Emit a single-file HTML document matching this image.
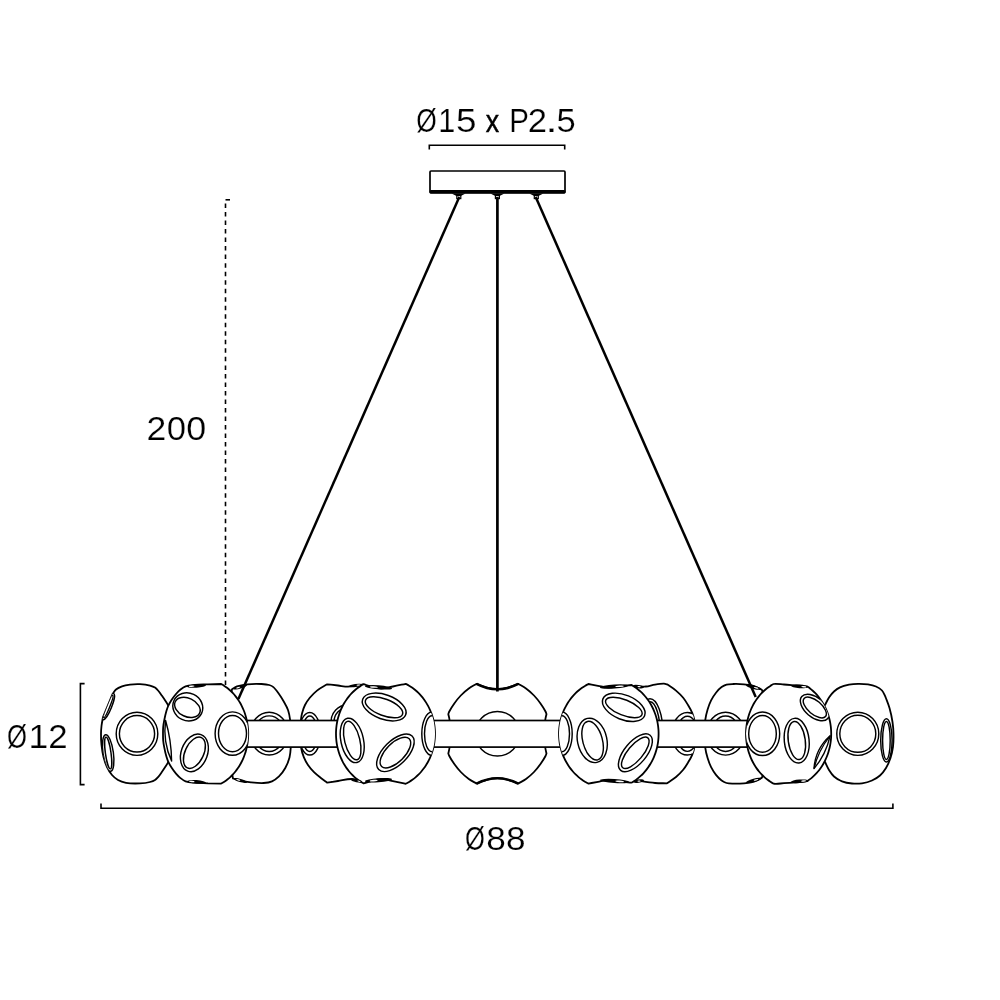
<!DOCTYPE html>
<html><head><meta charset="utf-8"><style>
html,body{margin:0;padding:0;background:#fff;}
svg{display:block;}
text{font-family:"Liberation Sans",sans-serif;fill:#000;}
</style></head><body>
<svg width="1000" height="1000" viewBox="0 0 1000 1000">
<defs><clipPath id="cA"><path d="M112.50,694.00 C113.67,692.50 114.52,690.75 116.00,689.50 C117.62,688.13 119.79,687.10 122.00,686.30 C124.42,685.42 127.17,684.95 130.00,684.60 C133.13,684.21 136.67,684.04 140.00,684.20 C143.34,684.37 147.27,684.88 150.00,685.60 C151.99,686.13 153.56,686.66 155.00,687.60 C156.37,688.49 157.39,689.72 158.50,691.00 C159.73,692.42 160.85,694.16 162.00,695.80 C163.18,697.49 164.40,699.27 165.50,701.00 C166.56,702.67 167.60,704.22 168.50,706.00 C169.45,707.88 170.17,710.00 171.00,712.00 L171.00,755.60 C170.17,757.60 169.45,759.72 168.50,761.60 C167.60,763.38 166.56,764.93 165.50,766.60 C164.40,768.33 163.18,770.11 162.00,771.80 C160.85,773.44 159.73,775.18 158.50,776.60 C157.39,777.88 156.37,779.11 155.00,780.00 C153.56,780.94 151.99,781.47 150.00,782.00 C147.27,782.72 143.62,783.23 140.00,783.40 C135.73,783.61 129.97,783.56 126.00,782.80 C122.91,782.21 120.37,781.34 118.00,780.00 C115.73,778.71 113.77,777.03 112.00,775.00 C110.06,772.77 108.39,769.90 107.00,767.00 C105.52,763.93 104.40,760.53 103.50,757.00 C102.53,753.22 101.92,748.94 101.50,745.00 C101.10,741.21 100.97,737.20 101.00,733.80 C101.03,730.96 101.19,728.68 101.50,726.00 C101.83,723.10 102.50,720.00 103.00,717.00 L112.50,694.00Z"/></clipPath><clipPath id="cK"><path d="M825.00,705.00 C826.33,702.50 827.46,699.79 829.00,697.50 C830.48,695.31 832.13,693.20 834.00,691.50 C835.81,689.86 837.70,688.50 840.00,687.40 C842.61,686.15 845.97,685.30 849.00,684.70 C851.97,684.11 854.92,683.86 858.00,683.80 C861.24,683.74 864.88,683.90 868.00,684.40 C870.84,684.85 873.60,685.42 876.00,686.50 C878.24,687.51 880.42,688.77 882.00,690.50 C883.60,692.26 884.33,694.83 885.50,697.00 C886.83,700.67 888.37,704.07 889.50,708.00 C890.75,712.35 891.83,717.51 892.50,722.00 C893.11,726.08 893.41,729.75 893.50,733.80 C893.60,738.07 893.55,742.82 893.00,747.00 C892.49,750.86 891.68,754.48 890.50,758.00 C889.34,761.47 887.83,765.01 886.00,768.00 C884.29,770.80 882.35,773.41 880.00,775.50 C877.67,777.57 874.92,779.21 872.00,780.50 C868.94,781.85 865.37,782.80 862.00,783.30 C858.70,783.79 855.31,783.83 852.00,783.50 C848.65,783.17 845.06,782.52 842.00,781.30 C839.08,780.14 836.21,778.47 834.00,776.50 C831.93,774.66 830.48,772.36 829.00,770.00 C827.46,767.54 826.33,764.67 825.00,762.00 C821.67,759.67 817.17,759.18 815.00,755.00 C810.92,747.16 810.92,719.84 815.00,712.00 C817.17,707.82 821.67,707.33 825.00,705.00Z"/></clipPath><clipPath id="cC"><path d="M232.00,689.20 C233.67,688.27 234.96,687.16 237.00,686.40 C239.79,685.37 243.73,684.71 247.50,684.30 C251.81,683.83 257.53,683.79 261.50,684.00 C264.45,684.16 267.06,684.35 269.20,685.00 C270.86,685.51 272.02,685.98 273.40,687.10 C275.31,688.64 277.26,691.66 279.00,694.10 C280.76,696.56 282.39,699.14 283.90,701.80 C285.43,704.50 287.06,707.20 288.10,710.20 C289.19,713.35 289.74,716.67 290.20,720.30 C290.72,724.45 290.70,729.32 290.80,733.80 C290.90,738.22 291.06,742.86 290.80,747.00 C290.57,750.71 290.39,754.06 289.50,757.50 C288.58,761.06 287.10,764.80 285.30,768.00 C283.57,771.08 281.36,774.12 279.00,776.40 C276.87,778.46 274.56,780.20 272.00,781.30 C269.43,782.40 266.70,782.78 263.60,783.00 C259.84,783.27 255.00,782.73 251.00,782.30 C247.33,781.90 243.69,781.30 240.50,780.60 C237.77,780.00 235.50,779.20 233.00,778.50 C230.33,763.60 225.16,748.71 225.00,733.80 C224.84,718.94 229.67,704.07 232.00,689.20Z"/></clipPath><clipPath id="cD"><path d="M327.20,684.30 C330.80,684.70 334.47,685.09 338.00,685.50 C341.40,685.89 344.86,686.75 348.00,686.70 C350.82,686.66 353.42,685.88 356.00,685.50 C358.41,685.15 360.67,684.83 363.00,684.50 C365.33,689.67 368.44,692.74 370.00,700.00 C373.17,714.73 373.71,756.61 370.00,770.00 C368.34,775.99 365.20,778.00 362.80,782.00 C359.20,781.00 355.86,779.25 352.00,779.00 C347.66,778.72 342.36,780.35 338.00,781.00 C334.16,781.58 330.80,782.13 327.20,782.70 C325.20,781.20 323.27,779.84 321.20,778.20 C318.89,776.37 316.20,774.40 314.00,772.20 C311.80,770.00 309.72,767.54 308.00,765.00 C306.33,762.53 304.92,759.97 303.80,757.20 C302.63,754.32 301.77,751.43 301.20,748.00 C300.50,743.81 300.43,738.55 300.40,733.80 C300.37,729.02 300.61,723.16 301.00,719.40 C301.25,716.96 301.44,715.54 302.00,713.40 C302.67,710.81 303.69,707.62 305.00,705.00 C306.29,702.42 307.91,700.11 309.80,697.80 C311.85,695.29 314.25,692.78 317.00,690.60 C319.99,688.24 323.80,686.40 327.20,684.30Z"/></clipPath><clipPath id="cF"><path d="M476.60,683.80 C478.33,684.50 480.06,685.26 481.80,685.90 C483.52,686.53 485.25,687.13 487.00,687.60 C488.72,688.06 490.46,688.43 492.20,688.70 C493.93,688.96 495.67,689.20 497.40,689.20 C499.13,689.20 500.87,688.96 502.60,688.70 C504.34,688.43 506.08,688.06 507.80,687.60 C509.55,687.13 511.28,686.53 513.00,685.90 C514.74,685.26 516.47,684.50 518.20,683.80 C520.80,685.37 523.46,686.65 526.00,688.50 C528.74,690.50 531.57,692.98 534.00,695.50 C536.39,697.98 538.55,700.77 540.50,703.50 C542.37,706.11 544.51,709.55 545.50,711.50 C546.03,712.54 546.17,713.17 546.50,714.00 C546.07,716.17 545.49,717.58 545.20,720.50 C544.62,726.33 544.62,741.17 545.20,747.00 C545.49,749.92 546.07,751.33 546.50,753.50 C546.17,754.33 546.03,754.96 545.50,756.00 C544.51,757.95 542.37,761.39 540.50,764.00 C538.55,766.73 536.39,769.52 534.00,772.00 C531.57,774.52 528.74,777.02 526.00,779.00 C523.47,780.83 520.80,782.07 518.20,783.60 C516.47,782.90 514.74,782.14 513.00,781.50 C511.28,780.87 509.55,780.27 507.80,779.80 C506.08,779.34 504.34,778.97 502.60,778.70 C500.87,778.44 499.13,778.20 497.40,778.20 C495.67,778.20 493.93,778.44 492.20,778.70 C490.46,778.97 488.72,779.34 487.00,779.80 C485.25,780.27 483.52,780.87 481.80,781.50 C480.06,782.14 478.33,782.90 476.60,783.60 C474.00,782.07 471.33,780.83 468.80,779.00 C466.06,777.02 463.23,774.52 460.80,772.00 C458.41,769.52 456.25,766.73 454.30,764.00 C452.43,761.39 450.29,757.95 449.30,756.00 C448.77,754.96 448.63,754.33 448.30,753.50 C448.73,751.33 449.31,749.92 449.60,747.00 C450.18,741.17 450.18,726.33 449.60,720.50 C449.31,717.58 448.73,716.17 448.30,714.00 C448.63,713.17 448.77,712.54 449.30,711.50 C450.29,709.55 452.43,706.11 454.30,703.50 C456.25,700.77 458.41,697.98 460.80,695.50 C463.23,692.98 466.06,690.50 468.80,688.50 C471.34,686.65 474.00,685.37 476.60,683.80Z"/></clipPath><clipPath id="cH"><path d="M632.00,688.00 C634.67,687.53 637.52,686.84 640.00,686.60 C642.14,686.40 643.81,686.75 646.00,686.50 C648.71,686.19 651.99,685.07 655.00,684.60 C657.99,684.14 661.81,683.59 664.00,683.70 C665.27,683.76 666.00,684.10 667.00,684.30 C670.00,686.40 673.26,688.30 676.00,690.60 C678.64,692.81 681.15,695.29 683.20,697.80 C685.09,700.11 686.51,702.52 688.00,705.00 C689.51,707.51 691.13,710.20 692.20,712.80 C693.18,715.20 693.87,717.18 694.30,720.00 C694.89,723.83 694.60,729.20 694.60,733.80 C694.60,738.40 694.89,743.77 694.30,747.60 C693.87,750.42 693.18,752.40 692.20,754.80 C691.13,757.40 689.51,760.09 688.00,762.60 C686.51,765.08 685.09,767.49 683.20,769.80 C681.15,772.31 678.64,774.79 676.00,777.00 C673.26,779.30 670.00,781.20 667.00,783.30 C663.00,783.20 659.21,783.33 655.00,783.00 C650.27,782.63 644.22,781.65 640.00,781.00 C636.91,780.52 634.67,780.07 632.00,779.60 L632.00,688.00Z"/></clipPath><clipPath id="cAbove"><rect x="0" y="600" width="1000" height="121"/></clipPath><clipPath id="cI"><path d="M762.00,690.00 C760.33,689.07 758.78,687.99 757.00,687.20 C755.13,686.37 753.10,685.68 751.00,685.20 C748.78,684.69 746.57,684.50 744.00,684.30 C740.86,684.05 736.64,683.91 733.50,684.00 C730.93,684.07 728.57,684.01 726.50,684.60 C724.66,685.13 723.20,685.94 721.60,687.10 C719.68,688.49 717.70,690.58 716.00,692.70 C714.17,694.98 712.49,697.65 711.10,700.40 C709.67,703.24 708.57,706.30 707.60,709.50 C706.57,712.91 705.71,716.48 705.20,720.30 C704.64,724.53 704.60,729.30 704.60,733.80 C704.60,738.30 704.64,743.07 705.20,747.30 C705.71,751.12 706.57,754.69 707.60,758.10 C708.57,761.30 709.67,764.36 711.10,767.20 C712.49,769.95 714.17,772.62 716.00,774.90 C717.70,777.02 719.68,779.11 721.60,780.50 C723.20,781.66 724.66,782.47 726.50,783.00 C728.57,783.59 730.93,783.53 733.50,783.60 C736.64,783.69 740.86,783.55 744.00,783.30 C746.57,783.10 748.78,782.91 751.00,782.40 C753.10,781.92 755.13,781.23 757.00,780.40 C758.78,779.61 760.33,778.53 762.00,777.60 C766.33,763.00 775.00,748.40 775.00,733.80 C775.00,719.20 766.33,704.60 762.00,690.00Z"/></clipPath><clipPath id="cB"><path d="M221.20,783.60 L208.00,783.30 C203.67,783.10 198.97,783.09 195.00,782.70 C191.60,782.37 188.18,782.25 185.60,781.30 C183.55,780.54 182.08,779.36 180.50,778.10 C178.87,776.80 177.44,775.26 176.00,773.60 C174.43,771.79 172.82,769.65 171.50,767.60 C170.24,765.64 169.08,763.54 168.20,761.60 C167.43,759.89 166.97,758.53 166.40,756.60 C165.65,754.06 164.85,750.42 164.30,747.60 C163.82,745.13 163.42,742.92 163.20,740.60 C162.99,738.32 163.00,736.07 163.00,733.80 C163.00,731.53 162.99,729.28 163.20,727.00 C163.42,724.68 163.82,722.47 164.30,720.00 C164.85,717.18 165.65,713.54 166.40,711.00 C166.97,709.07 167.43,707.71 168.20,706.00 C169.08,704.06 170.24,701.96 171.50,700.00 C172.82,697.95 174.43,695.81 176.00,694.00 C177.44,692.34 178.87,690.80 180.50,689.50 C182.08,688.24 183.55,687.06 185.60,686.30 C188.18,685.35 191.60,685.23 195.00,684.90 C198.97,684.51 203.67,684.50 208.00,684.30 L221.20,684.00 C222.25,684.63 223.32,685.23 224.35,685.90 C225.38,686.58 226.38,687.31 227.36,688.08 C228.35,688.85 229.30,689.66 230.23,690.51 C231.16,691.37 232.06,692.27 232.93,693.20 C233.81,694.13 234.65,695.11 235.45,696.11 C236.26,697.12 237.04,698.17 237.78,699.24 C238.52,700.32 239.23,701.43 239.90,702.56 C240.57,703.71 241.21,704.88 241.80,706.07 C242.40,707.26 242.95,708.49 243.47,709.73 C243.99,710.98 244.46,712.24 244.90,713.53 C245.33,714.82 245.73,716.12 246.08,717.44 C246.43,718.76 246.74,720.10 247.00,721.45 C247.27,722.80 247.49,724.16 247.67,725.53 C247.84,726.89 247.98,728.27 248.07,729.65 C248.16,731.03 248.20,732.42 248.20,733.80 C248.20,735.18 248.16,736.57 248.07,737.95 C247.98,739.33 247.84,740.71 247.67,742.07 C247.49,743.44 247.27,744.80 247.00,746.15 C246.74,747.50 246.43,748.84 246.08,750.16 C245.73,751.48 245.33,752.78 244.90,754.07 C244.46,755.36 243.99,756.62 243.47,757.87 C242.95,759.11 242.40,760.34 241.80,761.53 C241.21,762.72 240.57,763.89 239.90,765.04 C239.23,766.17 238.52,767.28 237.78,768.36 C237.04,769.43 236.26,770.48 235.45,771.49 C234.65,772.49 233.81,773.47 232.93,774.40 C232.06,775.33 231.16,776.23 230.23,777.09 C229.30,777.94 228.35,778.75 227.36,779.52 C226.38,780.29 225.38,781.02 224.35,781.70 C223.32,782.37 222.25,782.97 221.20,783.60Z"/></clipPath><clipPath id="cJ"><path d="M807.20,686.40 C808.15,687.08 809.12,687.73 810.05,688.44 C810.97,689.16 811.88,689.92 812.76,690.71 C813.64,691.50 814.50,692.32 815.33,693.17 C816.16,694.03 816.96,694.92 817.74,695.84 C818.51,696.76 819.26,697.71 819.98,698.68 C820.70,699.66 821.39,700.67 822.04,701.70 C822.70,702.73 823.32,703.79 823.91,704.86 C824.51,705.94 825.07,707.05 825.59,708.17 C826.11,709.29 826.60,710.44 827.06,711.60 C827.51,712.76 827.93,713.94 828.31,715.13 C828.69,716.33 829.04,717.54 829.34,718.76 C829.65,719.98 829.92,721.21 830.15,722.45 C830.38,723.70 830.58,724.95 830.73,726.21 C830.89,727.46 831.01,728.73 831.08,729.99 C831.16,731.26 831.20,732.53 831.20,733.80 C831.20,735.07 831.16,736.34 831.08,737.61 C831.01,738.87 830.89,740.14 830.73,741.39 C830.58,742.65 830.38,743.90 830.15,745.15 C829.92,746.39 829.65,747.62 829.34,748.84 C829.04,750.06 828.69,751.27 828.31,752.47 C827.93,753.66 827.51,754.84 827.06,756.00 C826.60,757.16 826.11,758.31 825.59,759.43 C825.07,760.55 824.51,761.66 823.91,762.74 C823.32,763.81 822.70,764.87 822.04,765.90 C821.39,766.93 820.70,767.94 819.98,768.92 C819.26,769.89 818.51,770.84 817.74,771.76 C816.96,772.68 816.16,773.57 815.33,774.43 C814.50,775.28 813.64,776.10 812.76,776.89 C811.88,777.68 810.97,778.44 810.05,779.16 C809.12,779.87 808.15,780.52 807.20,781.20 C803.47,781.57 799.80,781.97 796.00,782.30 C792.07,782.64 787.86,782.98 784.00,783.20 C780.41,783.40 776.02,784.21 773.60,783.60 C772.15,783.23 771.43,782.38 770.38,781.70 C769.33,781.02 768.30,780.29 767.30,779.52 C766.30,778.75 765.32,777.94 764.37,777.09 C763.42,776.23 762.50,775.33 761.61,774.40 C760.71,773.47 759.85,772.49 759.03,771.49 C758.20,770.48 757.41,769.43 756.65,768.36 C755.89,767.28 755.17,766.17 754.48,765.04 C753.80,763.89 753.15,762.72 752.54,761.53 C751.93,760.34 751.36,759.11 750.84,757.87 C750.31,756.62 749.82,755.36 749.38,754.07 C748.93,752.78 748.53,751.48 748.17,750.16 C747.81,748.84 747.50,747.50 747.22,746.15 C746.95,744.80 746.73,743.44 746.55,742.07 C746.36,740.71 746.23,739.33 746.14,737.95 C746.05,736.57 746.00,735.18 746.00,733.80 C746.00,732.42 746.05,731.03 746.14,729.65 C746.23,728.27 746.36,726.89 746.55,725.53 C746.73,724.16 746.95,722.80 747.22,721.45 C747.50,720.10 747.81,718.76 748.17,717.44 C748.53,716.12 748.93,714.82 749.38,713.53 C749.82,712.24 750.31,710.98 750.84,709.73 C751.36,708.49 751.93,707.26 752.54,706.07 C753.15,704.88 753.80,703.71 754.48,702.56 C755.17,701.43 755.89,700.32 756.65,699.24 C757.41,698.17 758.20,697.12 759.03,696.11 C759.85,695.11 760.71,694.13 761.61,693.20 C762.50,692.27 763.42,691.37 764.37,690.51 C765.32,689.66 766.30,688.85 767.30,688.08 C768.30,687.31 769.33,686.58 770.38,685.90 C771.43,685.22 772.15,684.36 773.60,684.00 C776.02,683.40 780.41,684.26 784.00,684.50 C787.86,684.75 792.07,685.18 796.00,685.50 C799.80,685.81 803.47,686.10 807.20,686.40Z"/></clipPath><clipPath id="cE"><path d="M405.70,683.80 C406.84,684.43 408.00,685.01 409.11,685.69 C410.22,686.36 411.32,687.09 412.38,687.85 C413.44,688.62 414.48,689.43 415.49,690.28 C416.50,691.13 417.48,692.03 418.42,692.96 C419.36,693.90 420.28,694.87 421.16,695.88 C422.03,696.89 422.88,697.94 423.68,699.02 C424.49,700.10 425.26,701.21 425.98,702.36 C426.71,703.50 427.40,704.68 428.05,705.88 C428.69,707.08 429.30,708.31 429.86,709.56 C430.42,710.81 430.94,712.09 431.41,713.38 C431.88,714.68 432.31,715.99 432.69,717.32 C433.07,718.65 433.41,720.00 433.70,721.36 C433.99,722.71 434.23,724.09 434.42,725.46 C434.61,726.84 434.76,728.23 434.85,729.62 C434.95,731.01 435.00,732.41 435.00,733.80 C435.00,735.19 434.95,736.59 434.85,737.98 C434.76,739.37 434.61,740.76 434.42,742.14 C434.23,743.51 433.99,744.89 433.70,746.24 C433.41,747.60 433.07,748.95 432.69,750.28 C432.31,751.61 431.88,752.92 431.41,754.22 C430.94,755.51 430.42,756.79 429.86,758.04 C429.30,759.29 428.69,760.52 428.05,761.72 C427.40,762.92 426.71,764.10 425.98,765.24 C425.26,766.39 424.49,767.50 423.68,768.58 C422.88,769.66 422.03,770.71 421.16,771.72 C420.28,772.73 419.36,773.70 418.42,774.64 C417.48,775.57 416.50,776.47 415.49,777.32 C414.48,778.17 413.44,778.98 412.38,779.75 C411.32,780.51 410.22,781.24 409.11,781.91 C408.00,782.59 406.84,783.17 405.70,783.80 C401.47,782.90 397.18,781.89 393.00,781.10 C388.95,780.33 384.71,779.06 381.00,779.10 C377.78,779.13 374.94,780.08 372.00,780.80 C369.11,781.51 366.33,782.53 363.50,783.40 C362.43,782.76 361.33,782.16 360.29,781.48 C359.24,780.80 358.21,780.06 357.21,779.30 C356.21,778.52 355.24,777.71 354.29,776.85 C353.34,776.00 352.42,775.10 351.54,774.17 C350.65,773.24 349.79,772.26 348.97,771.26 C348.15,770.26 347.35,769.21 346.60,768.14 C345.84,767.07 345.12,765.96 344.44,764.83 C343.76,763.69 343.11,762.53 342.51,761.34 C341.90,760.15 341.34,758.94 340.81,757.70 C340.29,756.46 339.80,755.20 339.36,753.93 C338.92,752.65 338.52,751.35 338.16,750.04 C337.80,748.73 337.49,747.40 337.22,746.06 C336.95,744.72 336.72,743.37 336.54,742.01 C336.36,740.65 336.23,739.29 336.14,737.92 C336.05,736.55 336.00,735.17 336.00,733.80 C336.00,732.43 336.05,731.05 336.14,729.68 C336.23,728.31 336.36,726.95 336.54,725.59 C336.72,724.23 336.95,722.88 337.22,721.54 C337.49,720.20 337.80,718.87 338.16,717.56 C338.52,716.25 338.92,714.95 339.36,713.67 C339.80,712.40 340.29,711.14 340.81,709.90 C341.34,708.66 341.90,707.45 342.51,706.26 C343.11,705.07 343.76,703.91 344.44,702.77 C345.12,701.64 345.84,700.53 346.60,699.46 C347.35,698.39 348.15,697.34 348.97,696.34 C349.79,695.34 350.65,694.36 351.54,693.43 C352.42,692.50 353.34,691.60 354.29,690.75 C355.24,689.89 356.21,689.08 357.21,688.30 C358.21,687.54 359.24,686.80 360.29,686.12 C361.33,685.44 362.43,684.84 363.50,684.20 C366.33,685.07 369.11,686.09 372.00,686.80 C374.94,687.52 377.78,688.47 381.00,688.50 C384.71,688.54 388.95,687.27 393.00,686.50 C397.18,685.71 401.47,684.70 405.70,683.80Z"/></clipPath><clipPath id="cG"><path d="M631.60,685.00 C632.66,685.66 633.74,686.28 634.77,686.97 C635.81,687.67 636.82,688.42 637.80,689.19 C638.79,689.98 639.75,690.80 640.68,691.65 C641.61,692.51 642.52,693.41 643.39,694.33 C644.26,695.26 645.10,696.23 645.91,697.22 C646.72,698.22 647.49,699.25 648.23,700.30 C648.97,701.36 649.68,702.45 650.35,703.56 C651.02,704.68 651.65,705.82 652.24,706.98 C652.83,708.15 653.39,709.34 653.90,710.54 C654.41,711.75 654.89,712.99 655.32,714.23 C655.75,715.48 656.14,716.74 656.49,718.02 C656.84,719.30 657.15,720.59 657.41,721.89 C657.67,723.19 657.89,724.51 658.07,725.82 C658.25,727.14 658.38,728.47 658.47,729.80 C658.56,731.13 658.60,732.47 658.60,733.80 C658.60,735.13 658.56,736.47 658.47,737.80 C658.38,739.13 658.25,740.46 658.07,741.78 C657.89,743.09 657.67,744.41 657.41,745.71 C657.15,747.01 656.84,748.30 656.49,749.58 C656.14,750.86 655.75,752.12 655.32,753.37 C654.89,754.61 654.41,755.85 653.90,757.06 C653.39,758.26 652.83,759.45 652.24,760.62 C651.65,761.78 651.02,762.92 650.35,764.04 C649.68,765.15 648.97,766.24 648.23,767.30 C647.49,768.35 646.72,769.38 645.91,770.38 C645.10,771.37 644.26,772.34 643.39,773.27 C642.52,774.19 641.61,775.09 640.68,775.95 C639.75,776.80 638.79,777.62 637.80,778.41 C636.82,779.18 635.81,779.93 634.77,780.63 C633.74,781.32 632.66,781.94 631.60,782.60 C627.73,782.27 623.90,782.01 620.00,781.60 C616.03,781.18 611.81,780.02 608.00,780.10 C604.51,780.18 601.30,781.21 598.00,781.80 C594.76,782.38 591.60,783.00 588.40,783.60 C587.26,782.97 586.09,782.38 584.97,781.70 C583.85,781.02 582.76,780.29 581.69,779.52 C580.62,778.75 579.58,777.94 578.57,777.09 C577.56,776.23 576.57,775.33 575.63,774.40 C574.68,773.47 573.76,772.50 572.88,771.49 C572.00,770.48 571.15,769.44 570.34,768.36 C569.54,767.28 568.77,766.17 568.04,765.04 C567.31,763.90 566.62,762.72 565.97,761.53 C565.32,760.34 564.71,759.11 564.15,757.87 C563.59,756.63 563.07,755.36 562.60,754.07 C562.12,752.79 561.69,751.48 561.31,750.16 C560.93,748.84 560.59,747.50 560.30,746.15 C560.02,744.80 559.77,743.44 559.58,742.07 C559.39,740.71 559.24,739.33 559.15,737.95 C559.05,736.57 559.00,735.18 559.00,733.80 C559.00,732.42 559.05,731.03 559.15,729.65 C559.24,728.27 559.39,726.89 559.58,725.53 C559.77,724.16 560.02,722.80 560.30,721.45 C560.59,720.10 560.93,718.76 561.31,717.44 C561.69,716.12 562.12,714.81 562.60,713.53 C563.07,712.24 563.59,710.97 564.15,709.73 C564.71,708.49 565.32,707.26 565.97,706.07 C566.62,704.88 567.31,703.70 568.04,702.56 C568.77,701.43 569.54,700.32 570.34,699.24 C571.15,698.16 572.00,697.12 572.88,696.11 C573.76,695.10 574.68,694.13 575.63,693.20 C576.57,692.27 577.56,691.37 578.57,690.51 C579.58,689.66 580.62,688.85 581.69,688.08 C582.76,687.31 583.85,686.58 584.97,685.90 C586.09,685.22 587.26,684.63 588.40,684.00 C591.60,684.60 594.76,685.22 598.00,685.80 C601.30,686.39 604.51,687.39 608.00,687.50 C611.81,687.62 616.03,686.62 620.00,686.20 C623.90,685.79 627.73,685.40 631.60,685.00Z"/></clipPath><filter id="gray"><feColorMatrix type="saturate" values="0"/></filter></defs>
<rect width="1000" height="1000" fill="#fff"/>
<g filter="url(#gray)"><text transform="translate(416.19,131.6) scale(0.809,1)" font-size="32.6" stroke="#fff" stroke-width="0.2">Ø</text><text transform="translate(438.17,131.6) scale(0.939,1)" font-size="32.6" stroke="#fff" stroke-width="0.2">1</text><text transform="translate(456.02,131.6) scale(1.132,1)" font-size="32.6" stroke="#fff" stroke-width="0.2">5</text><text transform="translate(485.80,131.6) scale(0.864,1)" font-size="31.0" stroke="#000" stroke-width="0.45">x</text><text transform="translate(509.18,131.6) scale(0.905,1)" font-size="32.6" stroke="#fff" stroke-width="0.2">P</text><text transform="translate(527.66,131.6) scale(1.064,1)" font-size="32.6" stroke="#fff" stroke-width="0.2">2</text><text transform="translate(545.28,131.6) scale(1.385,1)" font-size="32.6" stroke="#fff" stroke-width="0.2">.</text><text transform="translate(556.52,131.6) scale(1.061,1)" font-size="32.6" stroke="#fff" stroke-width="0.2">5</text><text transform="translate(146.51,439.7) scale(1.091,1)" font-size="32.6" stroke="#fff" stroke-width="0.2">2</text><text transform="translate(166.74,439.7) scale(1.065,1)" font-size="32.6" stroke="#fff" stroke-width="0.2">0</text><text transform="translate(186.19,439.7) scale(1.104,1)" font-size="32.6" stroke="#fff" stroke-width="0.2">0</text><text transform="translate(7.01,747.5) scale(0.787,1)" font-size="32.6" stroke="#fff" stroke-width="0.2">Ø</text><text transform="translate(28.60,747.5) scale(1.089,1)" font-size="32.6" stroke="#fff" stroke-width="0.2">1</text><text transform="translate(48.14,747.5) scale(1.071,1)" font-size="32.6" stroke="#fff" stroke-width="0.2">2</text><text transform="translate(465.12,849.7) scale(0.783,1)" font-size="32.6" stroke="#fff" stroke-width="0.2">Ø</text><text transform="translate(486.17,849.7) scale(1.079,1)" font-size="32.6" stroke="#fff" stroke-width="0.2">8</text><text transform="translate(505.97,849.7) scale(1.079,1)" font-size="32.6" stroke="#fff" stroke-width="0.2">8</text></g>
<g fill="none" stroke="#000" stroke-width="1.6">
<path d="M429.3,149.5 V145.3 H564.7 V149.5"/>
<path d="M101,803.5 V808.2 H892.9 V803.5"/>
<path d="M84.6,683.6 H80.4 V784.6 H84.6"/>
<path d="M230,199.8 H225.5"/>
<line x1="225.5" y1="203.5" x2="225.5" y2="685.5" stroke-dasharray="4.5 4.02"/>
</g>
<rect x="430" y="171" width="135" height="21.5" rx="1" fill="#fff" stroke="#000" stroke-width="1.7"/>
<rect x="429.5" y="190" width="136" height="3.8" rx="1.5" fill="#000"/>
<g fill="#000">
<path d="M451.6,193.5 L465.6,193.5 L460.8,196 L456.5,196 Z"/>
<path d="M490.4,193.5 L504.4,193.5 L499.6,196 L495.3,196 Z"/>
<path d="M529.3,193.5 L543.3,193.5 L538.5,196 L534.2,196 Z"/>
<rect x="456.8" y="195.6" width="4" height="3" fill="#fff" stroke="#000" stroke-width="1.2"/>
<rect x="495.4" y="195.6" width="4" height="3" fill="#fff" stroke="#000" stroke-width="1.2"/>
<rect x="534.3" y="195.6" width="4" height="3" fill="#fff" stroke="#000" stroke-width="1.2"/>
</g>
<path d="M112.50,694.00 C113.67,692.50 114.52,690.75 116.00,689.50 C117.62,688.13 119.79,687.10 122.00,686.30 C124.42,685.42 127.17,684.95 130.00,684.60 C133.13,684.21 136.67,684.04 140.00,684.20 C143.34,684.37 147.27,684.88 150.00,685.60 C151.99,686.13 153.56,686.66 155.00,687.60 C156.37,688.49 157.39,689.72 158.50,691.00 C159.73,692.42 160.85,694.16 162.00,695.80 C163.18,697.49 164.40,699.27 165.50,701.00 C166.56,702.67 167.60,704.22 168.50,706.00 C169.45,707.88 170.17,710.00 171.00,712.00 L171.00,755.60 C170.17,757.60 169.45,759.72 168.50,761.60 C167.60,763.38 166.56,764.93 165.50,766.60 C164.40,768.33 163.18,770.11 162.00,771.80 C160.85,773.44 159.73,775.18 158.50,776.60 C157.39,777.88 156.37,779.11 155.00,780.00 C153.56,780.94 151.99,781.47 150.00,782.00 C147.27,782.72 143.62,783.23 140.00,783.40 C135.73,783.61 129.97,783.56 126.00,782.80 C122.91,782.21 120.37,781.34 118.00,780.00 C115.73,778.71 113.77,777.03 112.00,775.00 C110.06,772.77 108.39,769.90 107.00,767.00 C105.52,763.93 104.40,760.53 103.50,757.00 C102.53,753.22 101.92,748.94 101.50,745.00 C101.10,741.21 100.97,737.20 101.00,733.80 C101.03,730.96 101.19,728.68 101.50,726.00 C101.83,723.10 102.50,720.00 103.00,717.00 L112.50,694.00Z" fill="#fff" stroke="#000" stroke-width="1.8" stroke-linejoin="round"/>
<g clip-path="url(#cA)"><g transform="translate(137,733.8) rotate(0)"><ellipse rx="20.8" ry="21.6" fill="#fff" stroke="#000" stroke-width="1.45"/><ellipse rx="17.6" ry="18.2" fill="none" stroke="#000" stroke-width="1.45"/></g></g>
<g clip-path="url(#cA)"><g transform="translate(108.2,706.5) rotate(22)"><ellipse rx="3.4" ry="14.2" fill="#fff" stroke="#000" stroke-width="1.45"/><ellipse rx="1.6" ry="12" fill="none" stroke="#000" stroke-width="1.45"/></g></g>
<g clip-path="url(#cA)"><g transform="translate(108.2,753) rotate(-8)"><ellipse rx="5.2" ry="18.5" fill="#fff" stroke="#000" stroke-width="1.45"/><ellipse rx="2.8" ry="16" fill="none" stroke="#000" stroke-width="1.45"/></g></g>
<path d="M825.00,705.00 C826.33,702.50 827.46,699.79 829.00,697.50 C830.48,695.31 832.13,693.20 834.00,691.50 C835.81,689.86 837.70,688.50 840.00,687.40 C842.61,686.15 845.97,685.30 849.00,684.70 C851.97,684.11 854.92,683.86 858.00,683.80 C861.24,683.74 864.88,683.90 868.00,684.40 C870.84,684.85 873.60,685.42 876.00,686.50 C878.24,687.51 880.42,688.77 882.00,690.50 C883.60,692.26 884.33,694.83 885.50,697.00 C886.83,700.67 888.37,704.07 889.50,708.00 C890.75,712.35 891.83,717.51 892.50,722.00 C893.11,726.08 893.41,729.75 893.50,733.80 C893.60,738.07 893.55,742.82 893.00,747.00 C892.49,750.86 891.68,754.48 890.50,758.00 C889.34,761.47 887.83,765.01 886.00,768.00 C884.29,770.80 882.35,773.41 880.00,775.50 C877.67,777.57 874.92,779.21 872.00,780.50 C868.94,781.85 865.37,782.80 862.00,783.30 C858.70,783.79 855.31,783.83 852.00,783.50 C848.65,783.17 845.06,782.52 842.00,781.30 C839.08,780.14 836.21,778.47 834.00,776.50 C831.93,774.66 830.48,772.36 829.00,770.00 C827.46,767.54 826.33,764.67 825.00,762.00 C821.67,759.67 817.17,759.18 815.00,755.00 C810.92,747.16 810.92,719.84 815.00,712.00 C817.17,707.82 821.67,707.33 825.00,705.00Z" fill="#fff" stroke="#000" stroke-width="1.8" stroke-linejoin="round"/>
<g clip-path="url(#cK)"><g transform="translate(857.8,733.8) rotate(0)"><ellipse rx="21" ry="21.6" fill="#fff" stroke="#000" stroke-width="1.45"/><ellipse rx="18" ry="18.5" fill="none" stroke="#000" stroke-width="1.45"/></g></g>
<g clip-path="url(#cK)"><g transform="translate(886.4,740.4) rotate(0)"><ellipse rx="5.7" ry="21.6" fill="#fff" stroke="#000" stroke-width="1.45"/><ellipse rx="3.8" ry="19" fill="none" stroke="#000" stroke-width="1.45"/></g></g>
<path d="M232.00,689.20 C233.67,688.27 234.96,687.16 237.00,686.40 C239.79,685.37 243.73,684.71 247.50,684.30 C251.81,683.83 257.53,683.79 261.50,684.00 C264.45,684.16 267.06,684.35 269.20,685.00 C270.86,685.51 272.02,685.98 273.40,687.10 C275.31,688.64 277.26,691.66 279.00,694.10 C280.76,696.56 282.39,699.14 283.90,701.80 C285.43,704.50 287.06,707.20 288.10,710.20 C289.19,713.35 289.74,716.67 290.20,720.30 C290.72,724.45 290.70,729.32 290.80,733.80 C290.90,738.22 291.06,742.86 290.80,747.00 C290.57,750.71 290.39,754.06 289.50,757.50 C288.58,761.06 287.10,764.80 285.30,768.00 C283.57,771.08 281.36,774.12 279.00,776.40 C276.87,778.46 274.56,780.20 272.00,781.30 C269.43,782.40 266.70,782.78 263.60,783.00 C259.84,783.27 255.00,782.73 251.00,782.30 C247.33,781.90 243.69,781.30 240.50,780.60 C237.77,780.00 235.50,779.20 233.00,778.50 C230.33,763.60 225.16,748.71 225.00,733.80 C224.84,718.94 229.67,704.07 232.00,689.20Z" fill="#fff" stroke="#000" stroke-width="1.8" stroke-linejoin="round"/>
<g clip-path="url(#cC)"><g transform="translate(269.2,733.65) rotate(0)"><ellipse rx="19" ry="21.4" fill="#fff" stroke="#000" stroke-width="1.45"/><ellipse rx="15.0" ry="17.8" fill="none" stroke="#000" stroke-width="1.45"/></g></g>
<path d="M327.20,684.30 C330.80,684.70 334.47,685.09 338.00,685.50 C341.40,685.89 344.86,686.75 348.00,686.70 C350.82,686.66 353.42,685.88 356.00,685.50 C358.41,685.15 360.67,684.83 363.00,684.50 C365.33,689.67 368.44,692.74 370.00,700.00 C373.17,714.73 373.71,756.61 370.00,770.00 C368.34,775.99 365.20,778.00 362.80,782.00 C359.20,781.00 355.86,779.25 352.00,779.00 C347.66,778.72 342.36,780.35 338.00,781.00 C334.16,781.58 330.80,782.13 327.20,782.70 C325.20,781.20 323.27,779.84 321.20,778.20 C318.89,776.37 316.20,774.40 314.00,772.20 C311.80,770.00 309.72,767.54 308.00,765.00 C306.33,762.53 304.92,759.97 303.80,757.20 C302.63,754.32 301.77,751.43 301.20,748.00 C300.50,743.81 300.43,738.55 300.40,733.80 C300.37,729.02 300.61,723.16 301.00,719.40 C301.25,716.96 301.44,715.54 302.00,713.40 C302.67,710.81 303.69,707.62 305.00,705.00 C306.29,702.42 307.91,700.11 309.80,697.80 C311.85,695.29 314.25,692.78 317.00,690.60 C319.99,688.24 323.80,686.40 327.20,684.30Z" fill="#fff" stroke="#000" stroke-width="1.8" stroke-linejoin="round"/>
<g clip-path="url(#cD)"><g transform="translate(309.8,733.8) rotate(0)"><ellipse rx="10.9" ry="21.3" fill="#fff" stroke="#000" stroke-width="1.45"/><ellipse rx="7.6" ry="17.7" fill="none" stroke="#000" stroke-width="1.45"/></g></g>
<g clip-path="url(#cD)"><g transform="translate(347,722) rotate(0)"><ellipse rx="16" ry="17" fill="#fff" stroke="#000" stroke-width="1.45"/><ellipse rx="13" ry="14" fill="none" stroke="#000" stroke-width="1.45"/></g></g>
<path d="M476.60,683.80 C478.33,684.50 480.06,685.26 481.80,685.90 C483.52,686.53 485.25,687.13 487.00,687.60 C488.72,688.06 490.46,688.43 492.20,688.70 C493.93,688.96 495.67,689.20 497.40,689.20 C499.13,689.20 500.87,688.96 502.60,688.70 C504.34,688.43 506.08,688.06 507.80,687.60 C509.55,687.13 511.28,686.53 513.00,685.90 C514.74,685.26 516.47,684.50 518.20,683.80 C520.80,685.37 523.46,686.65 526.00,688.50 C528.74,690.50 531.57,692.98 534.00,695.50 C536.39,697.98 538.55,700.77 540.50,703.50 C542.37,706.11 544.51,709.55 545.50,711.50 C546.03,712.54 546.17,713.17 546.50,714.00 C546.07,716.17 545.49,717.58 545.20,720.50 C544.62,726.33 544.62,741.17 545.20,747.00 C545.49,749.92 546.07,751.33 546.50,753.50 C546.17,754.33 546.03,754.96 545.50,756.00 C544.51,757.95 542.37,761.39 540.50,764.00 C538.55,766.73 536.39,769.52 534.00,772.00 C531.57,774.52 528.74,777.02 526.00,779.00 C523.47,780.83 520.80,782.07 518.20,783.60 C516.47,782.90 514.74,782.14 513.00,781.50 C511.28,780.87 509.55,780.27 507.80,779.80 C506.08,779.34 504.34,778.97 502.60,778.70 C500.87,778.44 499.13,778.20 497.40,778.20 C495.67,778.20 493.93,778.44 492.20,778.70 C490.46,778.97 488.72,779.34 487.00,779.80 C485.25,780.27 483.52,780.87 481.80,781.50 C480.06,782.14 478.33,782.90 476.60,783.60 C474.00,782.07 471.33,780.83 468.80,779.00 C466.06,777.02 463.23,774.52 460.80,772.00 C458.41,769.52 456.25,766.73 454.30,764.00 C452.43,761.39 450.29,757.95 449.30,756.00 C448.77,754.96 448.63,754.33 448.30,753.50 C448.73,751.33 449.31,749.92 449.60,747.00 C450.18,741.17 450.18,726.33 449.60,720.50 C449.31,717.58 448.73,716.17 448.30,714.00 C448.63,713.17 448.77,712.54 449.30,711.50 C450.29,709.55 452.43,706.11 454.30,703.50 C456.25,700.77 458.41,697.98 460.80,695.50 C463.23,692.98 466.06,690.50 468.80,688.50 C471.34,686.65 474.00,685.37 476.60,683.80Z" fill="#fff" stroke="#000" stroke-width="1.8" stroke-linejoin="round"/>
<path d="M476.6,683.8 Q497.4,694.6 518.2,683.8 M476.6,783.6 Q497.4,772.8 518.2,783.6" fill="none" stroke="#000" stroke-width="2.6"/>
<g clip-path="url(#cF)"><circle cx="497.4" cy="733.7" r="22.3" fill="none" stroke="#000" stroke-width="1.5"/></g>
<path d="M632.00,688.00 C634.67,687.53 637.52,686.84 640.00,686.60 C642.14,686.40 643.81,686.75 646.00,686.50 C648.71,686.19 651.99,685.07 655.00,684.60 C657.99,684.14 661.81,683.59 664.00,683.70 C665.27,683.76 666.00,684.10 667.00,684.30 C670.00,686.40 673.26,688.30 676.00,690.60 C678.64,692.81 681.15,695.29 683.20,697.80 C685.09,700.11 686.51,702.52 688.00,705.00 C689.51,707.51 691.13,710.20 692.20,712.80 C693.18,715.20 693.87,717.18 694.30,720.00 C694.89,723.83 694.60,729.20 694.60,733.80 C694.60,738.40 694.89,743.77 694.30,747.60 C693.87,750.42 693.18,752.40 692.20,754.80 C691.13,757.40 689.51,760.09 688.00,762.60 C686.51,765.08 685.09,767.49 683.20,769.80 C681.15,772.31 678.64,774.79 676.00,777.00 C673.26,779.30 670.00,781.20 667.00,783.30 C663.00,783.20 659.21,783.33 655.00,783.00 C650.27,782.63 644.22,781.65 640.00,781.00 C636.91,780.52 634.67,780.07 632.00,779.60 L632.00,688.00Z" fill="#fff" stroke="#000" stroke-width="1.8" stroke-linejoin="round"/>
<g clip-path="url(#cAbove)">
<g clip-path="url(#cH)"><g transform="translate(650,733.8) rotate(0)"><ellipse rx="13" ry="35" fill="#fff" stroke="#000" stroke-width="1.45"/><ellipse rx="10.2" ry="32" fill="none" stroke="#000" stroke-width="1.45"/></g></g>
</g>
<g clip-path="url(#cH)"><g transform="translate(687.4,733.8) rotate(0)"><ellipse rx="15.6" ry="21.3" fill="#fff" stroke="#000" stroke-width="1.45"/><ellipse rx="10.5" ry="17.6" fill="none" stroke="#000" stroke-width="1.45"/></g></g>
<path d="M762.00,690.00 C760.33,689.07 758.78,687.99 757.00,687.20 C755.13,686.37 753.10,685.68 751.00,685.20 C748.78,684.69 746.57,684.50 744.00,684.30 C740.86,684.05 736.64,683.91 733.50,684.00 C730.93,684.07 728.57,684.01 726.50,684.60 C724.66,685.13 723.20,685.94 721.60,687.10 C719.68,688.49 717.70,690.58 716.00,692.70 C714.17,694.98 712.49,697.65 711.10,700.40 C709.67,703.24 708.57,706.30 707.60,709.50 C706.57,712.91 705.71,716.48 705.20,720.30 C704.64,724.53 704.60,729.30 704.60,733.80 C704.60,738.30 704.64,743.07 705.20,747.30 C705.71,751.12 706.57,754.69 707.60,758.10 C708.57,761.30 709.67,764.36 711.10,767.20 C712.49,769.95 714.17,772.62 716.00,774.90 C717.70,777.02 719.68,779.11 721.60,780.50 C723.20,781.66 724.66,782.47 726.50,783.00 C728.57,783.59 730.93,783.53 733.50,783.60 C736.64,783.69 740.86,783.55 744.00,783.30 C746.57,783.10 748.78,782.91 751.00,782.40 C753.10,781.92 755.13,781.23 757.00,780.40 C758.78,779.61 760.33,778.53 762.00,777.60 C766.33,763.00 775.00,748.40 775.00,733.80 C775.00,719.20 766.33,704.60 762.00,690.00Z" fill="#fff" stroke="#000" stroke-width="1.8" stroke-linejoin="round"/>
<g clip-path="url(#cI)"><g transform="translate(725.6,733.7) rotate(0)"><ellipse rx="19" ry="21.4" fill="#fff" stroke="#000" stroke-width="1.45"/><ellipse rx="14.0" ry="17.7" fill="none" stroke="#000" stroke-width="1.45"/></g></g>
<line x1="459.3" y1="197" x2="238.4" y2="699" stroke="#000" stroke-width="2.5"/>
<line x1="535.7" y1="197" x2="755.7" y2="697" stroke="#000" stroke-width="2.5"/>
<line x1="497.4" y1="197" x2="497.4" y2="691.5" stroke="#000" stroke-width="2.7"/>
<rect x="240" y="720.5" width="515" height="26.6" fill="#fff" stroke="#000" stroke-width="1.7"/>
<path d="M221.20,783.60 L208.00,783.30 C203.67,783.10 198.97,783.09 195.00,782.70 C191.60,782.37 188.18,782.25 185.60,781.30 C183.55,780.54 182.08,779.36 180.50,778.10 C178.87,776.80 177.44,775.26 176.00,773.60 C174.43,771.79 172.82,769.65 171.50,767.60 C170.24,765.64 169.08,763.54 168.20,761.60 C167.43,759.89 166.97,758.53 166.40,756.60 C165.65,754.06 164.85,750.42 164.30,747.60 C163.82,745.13 163.42,742.92 163.20,740.60 C162.99,738.32 163.00,736.07 163.00,733.80 C163.00,731.53 162.99,729.28 163.20,727.00 C163.42,724.68 163.82,722.47 164.30,720.00 C164.85,717.18 165.65,713.54 166.40,711.00 C166.97,709.07 167.43,707.71 168.20,706.00 C169.08,704.06 170.24,701.96 171.50,700.00 C172.82,697.95 174.43,695.81 176.00,694.00 C177.44,692.34 178.87,690.80 180.50,689.50 C182.08,688.24 183.55,687.06 185.60,686.30 C188.18,685.35 191.60,685.23 195.00,684.90 C198.97,684.51 203.67,684.50 208.00,684.30 L221.20,684.00 C222.25,684.63 223.32,685.23 224.35,685.90 C225.38,686.58 226.38,687.31 227.36,688.08 C228.35,688.85 229.30,689.66 230.23,690.51 C231.16,691.37 232.06,692.27 232.93,693.20 C233.81,694.13 234.65,695.11 235.45,696.11 C236.26,697.12 237.04,698.17 237.78,699.24 C238.52,700.32 239.23,701.43 239.90,702.56 C240.57,703.71 241.21,704.88 241.80,706.07 C242.40,707.26 242.95,708.49 243.47,709.73 C243.99,710.98 244.46,712.24 244.90,713.53 C245.33,714.82 245.73,716.12 246.08,717.44 C246.43,718.76 246.74,720.10 247.00,721.45 C247.27,722.80 247.49,724.16 247.67,725.53 C247.84,726.89 247.98,728.27 248.07,729.65 C248.16,731.03 248.20,732.42 248.20,733.80 C248.20,735.18 248.16,736.57 248.07,737.95 C247.98,739.33 247.84,740.71 247.67,742.07 C247.49,743.44 247.27,744.80 247.00,746.15 C246.74,747.50 246.43,748.84 246.08,750.16 C245.73,751.48 245.33,752.78 244.90,754.07 C244.46,755.36 243.99,756.62 243.47,757.87 C242.95,759.11 242.40,760.34 241.80,761.53 C241.21,762.72 240.57,763.89 239.90,765.04 C239.23,766.17 238.52,767.28 237.78,768.36 C237.04,769.43 236.26,770.48 235.45,771.49 C234.65,772.49 233.81,773.47 232.93,774.40 C232.06,775.33 231.16,776.23 230.23,777.09 C229.30,777.94 228.35,778.75 227.36,779.52 C226.38,780.29 225.38,781.02 224.35,781.70 C223.32,782.37 222.25,782.97 221.20,783.60Z" fill="#fff" stroke="#000" stroke-width="1.8" stroke-linejoin="round"/>
<g clip-path="url(#cB)"><ellipse transform="translate(187.8,706.9) rotate(25)" rx="15.2" ry="13.8" fill="#fff" stroke="#000" stroke-width="1.45"/><ellipse transform="translate(187.4,707.4) rotate(25)" rx="13.45" ry="9.2" fill="none" stroke="#000" stroke-width="1.45"/></g>
<g clip-path="url(#cB)"><ellipse transform="translate(194.4,752.85) rotate(20)" rx="13.1" ry="19.4" fill="#fff" stroke="#000" stroke-width="1.45"/><ellipse transform="translate(194.4,752.75) rotate(25)" rx="9.3" ry="16.7" fill="none" stroke="#000" stroke-width="1.45"/></g>
<g clip-path="url(#cB)"><ellipse transform="translate(232.5,733.6) rotate(0)" rx="17.4" ry="21.7" fill="#fff" stroke="#000" stroke-width="1.45"/><ellipse transform="translate(232.5,733.6) rotate(0)" rx="14" ry="18.1" fill="none" stroke="#000" stroke-width="1.45"/></g>
<path d="M165.60,720.50 Q162.66,741.63 171.60,761.00 Q171.37,740.34 165.60,720.50Z" fill="#fff" stroke="#000" stroke-width="1.4" stroke-linejoin="round"/>
<path d="M807.20,686.40 C808.15,687.08 809.12,687.73 810.05,688.44 C810.97,689.16 811.88,689.92 812.76,690.71 C813.64,691.50 814.50,692.32 815.33,693.17 C816.16,694.03 816.96,694.92 817.74,695.84 C818.51,696.76 819.26,697.71 819.98,698.68 C820.70,699.66 821.39,700.67 822.04,701.70 C822.70,702.73 823.32,703.79 823.91,704.86 C824.51,705.94 825.07,707.05 825.59,708.17 C826.11,709.29 826.60,710.44 827.06,711.60 C827.51,712.76 827.93,713.94 828.31,715.13 C828.69,716.33 829.04,717.54 829.34,718.76 C829.65,719.98 829.92,721.21 830.15,722.45 C830.38,723.70 830.58,724.95 830.73,726.21 C830.89,727.46 831.01,728.73 831.08,729.99 C831.16,731.26 831.20,732.53 831.20,733.80 C831.20,735.07 831.16,736.34 831.08,737.61 C831.01,738.87 830.89,740.14 830.73,741.39 C830.58,742.65 830.38,743.90 830.15,745.15 C829.92,746.39 829.65,747.62 829.34,748.84 C829.04,750.06 828.69,751.27 828.31,752.47 C827.93,753.66 827.51,754.84 827.06,756.00 C826.60,757.16 826.11,758.31 825.59,759.43 C825.07,760.55 824.51,761.66 823.91,762.74 C823.32,763.81 822.70,764.87 822.04,765.90 C821.39,766.93 820.70,767.94 819.98,768.92 C819.26,769.89 818.51,770.84 817.74,771.76 C816.96,772.68 816.16,773.57 815.33,774.43 C814.50,775.28 813.64,776.10 812.76,776.89 C811.88,777.68 810.97,778.44 810.05,779.16 C809.12,779.87 808.15,780.52 807.20,781.20 C803.47,781.57 799.80,781.97 796.00,782.30 C792.07,782.64 787.86,782.98 784.00,783.20 C780.41,783.40 776.02,784.21 773.60,783.60 C772.15,783.23 771.43,782.38 770.38,781.70 C769.33,781.02 768.30,780.29 767.30,779.52 C766.30,778.75 765.32,777.94 764.37,777.09 C763.42,776.23 762.50,775.33 761.61,774.40 C760.71,773.47 759.85,772.49 759.03,771.49 C758.20,770.48 757.41,769.43 756.65,768.36 C755.89,767.28 755.17,766.17 754.48,765.04 C753.80,763.89 753.15,762.72 752.54,761.53 C751.93,760.34 751.36,759.11 750.84,757.87 C750.31,756.62 749.82,755.36 749.38,754.07 C748.93,752.78 748.53,751.48 748.17,750.16 C747.81,748.84 747.50,747.50 747.22,746.15 C746.95,744.80 746.73,743.44 746.55,742.07 C746.36,740.71 746.23,739.33 746.14,737.95 C746.05,736.57 746.00,735.18 746.00,733.80 C746.00,732.42 746.05,731.03 746.14,729.65 C746.23,728.27 746.36,726.89 746.55,725.53 C746.73,724.16 746.95,722.80 747.22,721.45 C747.50,720.10 747.81,718.76 748.17,717.44 C748.53,716.12 748.93,714.82 749.38,713.53 C749.82,712.24 750.31,710.98 750.84,709.73 C751.36,708.49 751.93,707.26 752.54,706.07 C753.15,704.88 753.80,703.71 754.48,702.56 C755.17,701.43 755.89,700.32 756.65,699.24 C757.41,698.17 758.20,697.12 759.03,696.11 C759.85,695.11 760.71,694.13 761.61,693.20 C762.50,692.27 763.42,691.37 764.37,690.51 C765.32,689.66 766.30,688.85 767.30,688.08 C768.30,687.31 769.33,686.58 770.38,685.90 C771.43,685.22 772.15,684.36 773.60,684.00 C776.02,683.40 780.41,684.26 784.00,684.50 C787.86,684.75 792.07,685.18 796.00,685.50 C799.80,685.81 803.47,686.10 807.20,686.40Z" fill="#fff" stroke="#000" stroke-width="1.8" stroke-linejoin="round"/>
<g clip-path="url(#cJ)"><ellipse transform="translate(762.5,733.85) rotate(0)" rx="17.2" ry="21.75" fill="#fff" stroke="#000" stroke-width="1.45"/><ellipse transform="translate(762.5,733.85) rotate(0)" rx="13.8" ry="18.35" fill="none" stroke="#000" stroke-width="1.45"/></g>
<g clip-path="url(#cJ)"><ellipse transform="translate(796.7,740.65) rotate(-6)" rx="12.4" ry="22.4" fill="#fff" stroke="#000" stroke-width="1.45"/><ellipse transform="translate(796.75,740.5) rotate(-8)" rx="8.5" ry="19.2" fill="none" stroke="#000" stroke-width="1.45"/></g>
<g clip-path="url(#cJ)"><ellipse transform="translate(814.8,707.5) rotate(40)" rx="17" ry="9.8" fill="#fff" stroke="#000" stroke-width="1.45"/><ellipse transform="translate(814.8,707.5) rotate(40)" rx="14" ry="6.8" fill="none" stroke="#000" stroke-width="1.45"/></g>
<path d="M814.00,768.60 Q815.32,748.90 830.10,735.80 Q826.09,754.18 814.00,768.60Z" fill="#fff" stroke="#000" stroke-width="1.4" stroke-linejoin="round"/><path d="M814.00,768.60 Q818.28,750.35 830.10,735.80" fill="none" stroke="#000" stroke-width="1.26"/>
<path d="M405.70,683.80 C406.84,684.43 408.00,685.01 409.11,685.69 C410.22,686.36 411.32,687.09 412.38,687.85 C413.44,688.62 414.48,689.43 415.49,690.28 C416.50,691.13 417.48,692.03 418.42,692.96 C419.36,693.90 420.28,694.87 421.16,695.88 C422.03,696.89 422.88,697.94 423.68,699.02 C424.49,700.10 425.26,701.21 425.98,702.36 C426.71,703.50 427.40,704.68 428.05,705.88 C428.69,707.08 429.30,708.31 429.86,709.56 C430.42,710.81 430.94,712.09 431.41,713.38 C431.88,714.68 432.31,715.99 432.69,717.32 C433.07,718.65 433.41,720.00 433.70,721.36 C433.99,722.71 434.23,724.09 434.42,725.46 C434.61,726.84 434.76,728.23 434.85,729.62 C434.95,731.01 435.00,732.41 435.00,733.80 C435.00,735.19 434.95,736.59 434.85,737.98 C434.76,739.37 434.61,740.76 434.42,742.14 C434.23,743.51 433.99,744.89 433.70,746.24 C433.41,747.60 433.07,748.95 432.69,750.28 C432.31,751.61 431.88,752.92 431.41,754.22 C430.94,755.51 430.42,756.79 429.86,758.04 C429.30,759.29 428.69,760.52 428.05,761.72 C427.40,762.92 426.71,764.10 425.98,765.24 C425.26,766.39 424.49,767.50 423.68,768.58 C422.88,769.66 422.03,770.71 421.16,771.72 C420.28,772.73 419.36,773.70 418.42,774.64 C417.48,775.57 416.50,776.47 415.49,777.32 C414.48,778.17 413.44,778.98 412.38,779.75 C411.32,780.51 410.22,781.24 409.11,781.91 C408.00,782.59 406.84,783.17 405.70,783.80 C401.47,782.90 397.18,781.89 393.00,781.10 C388.95,780.33 384.71,779.06 381.00,779.10 C377.78,779.13 374.94,780.08 372.00,780.80 C369.11,781.51 366.33,782.53 363.50,783.40 C362.43,782.76 361.33,782.16 360.29,781.48 C359.24,780.80 358.21,780.06 357.21,779.30 C356.21,778.52 355.24,777.71 354.29,776.85 C353.34,776.00 352.42,775.10 351.54,774.17 C350.65,773.24 349.79,772.26 348.97,771.26 C348.15,770.26 347.35,769.21 346.60,768.14 C345.84,767.07 345.12,765.96 344.44,764.83 C343.76,763.69 343.11,762.53 342.51,761.34 C341.90,760.15 341.34,758.94 340.81,757.70 C340.29,756.46 339.80,755.20 339.36,753.93 C338.92,752.65 338.52,751.35 338.16,750.04 C337.80,748.73 337.49,747.40 337.22,746.06 C336.95,744.72 336.72,743.37 336.54,742.01 C336.36,740.65 336.23,739.29 336.14,737.92 C336.05,736.55 336.00,735.17 336.00,733.80 C336.00,732.43 336.05,731.05 336.14,729.68 C336.23,728.31 336.36,726.95 336.54,725.59 C336.72,724.23 336.95,722.88 337.22,721.54 C337.49,720.20 337.80,718.87 338.16,717.56 C338.52,716.25 338.92,714.95 339.36,713.67 C339.80,712.40 340.29,711.14 340.81,709.90 C341.34,708.66 341.90,707.45 342.51,706.26 C343.11,705.07 343.76,703.91 344.44,702.77 C345.12,701.64 345.84,700.53 346.60,699.46 C347.35,698.39 348.15,697.34 348.97,696.34 C349.79,695.34 350.65,694.36 351.54,693.43 C352.42,692.50 353.34,691.60 354.29,690.75 C355.24,689.89 356.21,689.08 357.21,688.30 C358.21,687.54 359.24,686.80 360.29,686.12 C361.33,685.44 362.43,684.84 363.50,684.20 C366.33,685.07 369.11,686.09 372.00,686.80 C374.94,687.52 377.78,688.47 381.00,688.50 C384.71,688.54 388.95,687.27 393.00,686.50 C397.18,685.71 401.47,684.70 405.70,683.80Z" fill="#fff" stroke="#000" stroke-width="1.8" stroke-linejoin="round"/>
<g clip-path="url(#cE)"><ellipse transform="translate(384.2,707) rotate(20)" rx="22.9" ry="12.2" fill="#fff" stroke="#000" stroke-width="1.45"/><ellipse transform="translate(384,707.3) rotate(21)" rx="19.8" ry="8.3" fill="none" stroke="#000" stroke-width="1.45"/></g>
<g clip-path="url(#cE)"><ellipse transform="translate(352.2,740.4) rotate(-12)" rx="11.3" ry="22.6" fill="#fff" stroke="#000" stroke-width="1.45"/><ellipse transform="translate(352.25,740.55) rotate(-14)" rx="7.6" ry="19.75" fill="none" stroke="#000" stroke-width="1.45"/></g>
<g clip-path="url(#cE)"><ellipse transform="translate(395.4,752.8) rotate(-45)" rx="23.6" ry="12.1" fill="#fff" stroke="#000" stroke-width="1.45"/><ellipse transform="translate(395.4,752.6) rotate(-45)" rx="19.5" ry="9.4" fill="none" stroke="#000" stroke-width="1.45"/></g>
<g clip-path="url(#cE)"><ellipse transform="translate(432,733.8) rotate(0)" rx="10.2" ry="21.7" fill="#fff" stroke="#000" stroke-width="1.45"/><ellipse transform="translate(432,733.8) rotate(0)" rx="7.5" ry="18" fill="none" stroke="#000" stroke-width="1.45"/></g>
<path d="M631.60,685.00 C632.66,685.66 633.74,686.28 634.77,686.97 C635.81,687.67 636.82,688.42 637.80,689.19 C638.79,689.98 639.75,690.80 640.68,691.65 C641.61,692.51 642.52,693.41 643.39,694.33 C644.26,695.26 645.10,696.23 645.91,697.22 C646.72,698.22 647.49,699.25 648.23,700.30 C648.97,701.36 649.68,702.45 650.35,703.56 C651.02,704.68 651.65,705.82 652.24,706.98 C652.83,708.15 653.39,709.34 653.90,710.54 C654.41,711.75 654.89,712.99 655.32,714.23 C655.75,715.48 656.14,716.74 656.49,718.02 C656.84,719.30 657.15,720.59 657.41,721.89 C657.67,723.19 657.89,724.51 658.07,725.82 C658.25,727.14 658.38,728.47 658.47,729.80 C658.56,731.13 658.60,732.47 658.60,733.80 C658.60,735.13 658.56,736.47 658.47,737.80 C658.38,739.13 658.25,740.46 658.07,741.78 C657.89,743.09 657.67,744.41 657.41,745.71 C657.15,747.01 656.84,748.30 656.49,749.58 C656.14,750.86 655.75,752.12 655.32,753.37 C654.89,754.61 654.41,755.85 653.90,757.06 C653.39,758.26 652.83,759.45 652.24,760.62 C651.65,761.78 651.02,762.92 650.35,764.04 C649.68,765.15 648.97,766.24 648.23,767.30 C647.49,768.35 646.72,769.38 645.91,770.38 C645.10,771.37 644.26,772.34 643.39,773.27 C642.52,774.19 641.61,775.09 640.68,775.95 C639.75,776.80 638.79,777.62 637.80,778.41 C636.82,779.18 635.81,779.93 634.77,780.63 C633.74,781.32 632.66,781.94 631.60,782.60 C627.73,782.27 623.90,782.01 620.00,781.60 C616.03,781.18 611.81,780.02 608.00,780.10 C604.51,780.18 601.30,781.21 598.00,781.80 C594.76,782.38 591.60,783.00 588.40,783.60 C587.26,782.97 586.09,782.38 584.97,781.70 C583.85,781.02 582.76,780.29 581.69,779.52 C580.62,778.75 579.58,777.94 578.57,777.09 C577.56,776.23 576.57,775.33 575.63,774.40 C574.68,773.47 573.76,772.50 572.88,771.49 C572.00,770.48 571.15,769.44 570.34,768.36 C569.54,767.28 568.77,766.17 568.04,765.04 C567.31,763.90 566.62,762.72 565.97,761.53 C565.32,760.34 564.71,759.11 564.15,757.87 C563.59,756.63 563.07,755.36 562.60,754.07 C562.12,752.79 561.69,751.48 561.31,750.16 C560.93,748.84 560.59,747.50 560.30,746.15 C560.02,744.80 559.77,743.44 559.58,742.07 C559.39,740.71 559.24,739.33 559.15,737.95 C559.05,736.57 559.00,735.18 559.00,733.80 C559.00,732.42 559.05,731.03 559.15,729.65 C559.24,728.27 559.39,726.89 559.58,725.53 C559.77,724.16 560.02,722.80 560.30,721.45 C560.59,720.10 560.93,718.76 561.31,717.44 C561.69,716.12 562.12,714.81 562.60,713.53 C563.07,712.24 563.59,710.97 564.15,709.73 C564.71,708.49 565.32,707.26 565.97,706.07 C566.62,704.88 567.31,703.70 568.04,702.56 C568.77,701.43 569.54,700.32 570.34,699.24 C571.15,698.16 572.00,697.12 572.88,696.11 C573.76,695.10 574.68,694.13 575.63,693.20 C576.57,692.27 577.56,691.37 578.57,690.51 C579.58,689.66 580.62,688.85 581.69,688.08 C582.76,687.31 583.85,686.58 584.97,685.90 C586.09,685.22 587.26,684.63 588.40,684.00 C591.60,684.60 594.76,685.22 598.00,685.80 C601.30,686.39 604.51,687.39 608.00,687.50 C611.81,687.62 616.03,686.62 620.00,686.20 C623.90,685.79 627.73,685.40 631.60,685.00Z" fill="#fff" stroke="#000" stroke-width="1.8" stroke-linejoin="round"/>
<g clip-path="url(#cG)"><ellipse transform="translate(623.75,707.3) rotate(22)" rx="22.5" ry="12.3" fill="#fff" stroke="#000" stroke-width="1.45"/><ellipse transform="translate(623.85,707.45) rotate(22)" rx="19.5" ry="7.8" fill="none" stroke="#000" stroke-width="1.45"/></g>
<g clip-path="url(#cG)"><ellipse transform="translate(562,733.8) rotate(0)" rx="10.2" ry="21.7" fill="#fff" stroke="#000" stroke-width="1.45"/><ellipse transform="translate(562,733.8) rotate(0)" rx="7.5" ry="18" fill="none" stroke="#000" stroke-width="1.45"/></g>
<g clip-path="url(#cG)"><ellipse transform="translate(592.2,740.4) rotate(-12)" rx="14.7" ry="22.5" fill="#fff" stroke="#000" stroke-width="1.45"/><ellipse transform="translate(592.6,740.65) rotate(-15)" rx="9.8" ry="19.9" fill="none" stroke="#000" stroke-width="1.45"/></g>
<g clip-path="url(#cG)"><ellipse transform="translate(635.4,752.8) rotate(-50)" rx="22.9" ry="11" fill="#fff" stroke="#000" stroke-width="1.45"/><ellipse transform="translate(635.3,752.8) rotate(-50)" rx="19.5" ry="7.5" fill="none" stroke="#000" stroke-width="1.45"/></g>
<g transform="translate(196.50,685.90) rotate(-4.21)"><ellipse rx="9.53" ry="1.80" fill="#000"/><ellipse cx="-4.76" rx="2.86" ry="0.68" fill="#fff"/></g>
<g transform="translate(196.50,781.90) rotate(4.21)"><ellipse rx="9.53" ry="1.80" fill="#000"/><ellipse cx="-4.76" rx="2.86" ry="0.68" fill="#fff"/></g>
<g transform="translate(240.25,687.00) rotate(-16.50)"><ellipse rx="7.04" ry="1.60" fill="#000"/><ellipse cx="-2.11" rx="2.11" ry="0.61" fill="#fff"/></g>
<g transform="translate(240.25,780.50) rotate(15.72)"><ellipse rx="7.01" ry="1.60" fill="#000"/><ellipse cx="-2.10" rx="2.10" ry="0.61" fill="#fff"/></g>
<g transform="translate(355.50,685.50) rotate(-7.88)"><ellipse rx="6.56" ry="1.50" fill="#000"/><ellipse cx="2.95" rx="1.97" ry="0.57" fill="#fff"/></g>
<g transform="translate(356.50,780.70) rotate(11.31)"><ellipse rx="5.61" ry="1.50" fill="#000"/><ellipse cx="2.52" rx="1.68" ry="0.57" fill="#fff"/></g>
<g transform="translate(378.50,687.35) rotate(4.45)"><ellipse rx="13.54" ry="2.00" fill="#000"/><ellipse cx="-4.74" rx="4.06" ry="0.76" fill="#fff"/></g>
<g transform="translate(378.50,780.25) rotate(-4.45)"><ellipse rx="13.54" ry="2.00" fill="#000"/><ellipse cx="-4.74" rx="4.06" ry="0.76" fill="#fff"/></g>
<g transform="translate(614.50,686.55) rotate(-3.75)"><ellipse rx="14.53" ry="2.00" fill="#000"/><ellipse cx="5.09" rx="4.36" ry="0.76" fill="#fff"/></g>
<g transform="translate(614.50,781.05) rotate(3.75)"><ellipse rx="14.53" ry="2.00" fill="#000"/><ellipse cx="5.09" rx="4.36" ry="0.76" fill="#fff"/></g>
<g transform="translate(638.50,686.55) rotate(7.77)"><ellipse rx="5.55" ry="1.60" fill="#000"/><ellipse cx="0.56" rx="1.67" ry="0.61" fill="#fff"/></g>
<g transform="translate(638.50,781.15) rotate(-6.74)"><ellipse rx="5.54" ry="1.60" fill="#000"/><ellipse cx="0.55" rx="1.66" ry="0.61" fill="#fff"/></g>
<g transform="translate(753.75,687.25) rotate(14.82)"><ellipse rx="8.02" ry="1.70" fill="#000"/><ellipse cx="2.40" rx="2.40" ry="0.65" fill="#fff"/></g>
<g transform="translate(753.75,780.40) rotate(-14.47)"><ellipse rx="8.00" ry="1.70" fill="#000"/><ellipse cx="2.40" rx="2.40" ry="0.65" fill="#fff"/></g>
<g transform="translate(799.50,686.40) rotate(4.04)"><ellipse rx="8.52" ry="1.80" fill="#000"/><ellipse cx="4.26" rx="2.56" ry="0.68" fill="#fff"/></g>
<g transform="translate(799.50,781.30) rotate(-4.04)"><ellipse rx="8.52" ry="1.80" fill="#000"/><ellipse cx="4.26" rx="2.56" ry="0.68" fill="#fff"/></g>
</svg>
</body></html>
